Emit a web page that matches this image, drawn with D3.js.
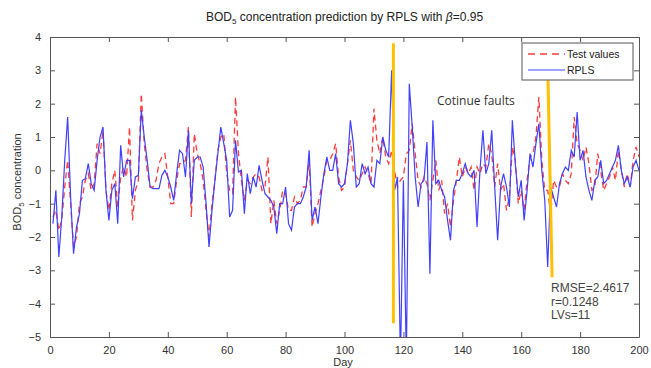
<!DOCTYPE html>
<html>
<head>
<meta charset="utf-8">
<script src="https://cdn.jsdelivr.net/npm/d3@7"></script>
<style>
  body { margin: 0; background: #fff; }
  svg { display: block; font-family: "Liberation Sans", Arial, sans-serif; }
</style>
</head>
<body>
<svg id="chart" width="651" height="368"></svg>
<script>
// test values (red dashed), day 1..200
const testValues = [
  -1.4, -1.2, -1.8, -1.5, -0.5, 0.3, -1.0, -2.3, -2.0, -1.0,
  -0.8, -0.3, -0.1, -0.6, -0.4, 0.8, 0.5, 1.2, -0.6, -1.2,
  -0.4, 0.0, -1.1, -0.2, 0.1, -0.2, 1.3, -1.5, -0.6, -0.3,
  2.3, 0.8, 0.0, -0.5, -0.5, -0.3, 0.2, 0.4, 0.5, -0.2,
  -1.0, -1.0, -0.3, 0.2, 0.2, 0.3, 1.3, -1.4, 1.1, 0.5,
  0.2, -0.3, -1.2, -2.0, -1.0, -0.3, 0.6, 1.0, 1.1, -0.1,
  -0.6, -0.7, 2.2, 0.5, -0.3, -0.9, -0.3, -0.4, -0.2, -0.1,
  -0.2, -0.6, -0.5, 0.4, -1.6, -0.9, -1.6, -1.2, -0.6, -0.7,
  -1.2, -1.2, -0.8, -1.0, -0.9, -0.5, -0.5, 0.3, -1.7, -1.3,
  -1.0, -0.6, -0.2, 0.3, 0.3, 0.5, 0.8, -0.2, -0.6, -0.5,
  0.2, 0.9, 0.0, -0.2, -0.3, -0.1, 0.1, -0.1, -0.4, 1.85,
  0.9, 0.5, 1.0, 0.4, 0.2, 0.6, 0.0, -0.5, -0.3, -0.2,
  0.5, 0.6, 1.4, 0.5, -0.3, -0.5, -0.2, -0.4, -0.9, -0.3,
  0.3, -0.6, -0.3, -1.3, -1.0, -1.7, -0.9, -0.3, 0.4, -0.2,
  0.1, -0.1, 0.1, -0.6, 0.1, -0.1, 0.2, 0.1, 0.8, 0.5,
  -0.5, 0.2, -0.6, -0.4, -1.2, -0.8, 0.7, 0.3, -1.0, -0.6,
  -1.2, -0.3, 0.4, 0.5, 1.0, 2.2, 0.3, -0.6, -0.6, -1.3,
  -0.3, -0.5, -0.5, -0.1, -0.3, -0.4, -0.1, 1.6, 0.8, 0.6,
  0.3, 0.7, 0.2, -0.6, -0.5, 0.5, 0.0, -0.6, -0.4, -0.2,
  0.1, -0.3, 0.6, 0.0, -0.5, -0.1, -0.5, 0.3, 0.7, 0.4
];

// RPLS prediction (blue), day 1..200
const rplsValues = [
  -1.6, -0.6, -2.6, -1.4, 0.3, 1.6, -0.8, -2.5, -1.7, -1.3,
  -0.3, -0.25, 0.2, -0.4, -0.6, 0.3, 1.0, 1.3, -0.6, -1.5,
  -0.6, -0.4, -1.6, 0.75, -0.2, 0.3, 0.3, -0.85, -0.2, -0.15,
  1.8, 1.0, 0.3, -0.5, -0.55, -0.55, -0.55, -0.15, 0.0, -0.2,
  -0.5, -0.9, -0.1, 0.6, 0.5, -0.2, 1.2, -1.0, 0.3, 0.4,
  0.4, 0.1, -1.0, -2.3, -1.2, -0.3, 0.5, 1.3, 0.8, 0.3,
  -1.4, -1.2, 0.9, -0.05, 0.0, -1.3, -0.1, -0.7, -0.2, -0.5,
  0.15, -0.3, -0.7, -0.8, -0.9, -1.1, -1.9, -1.0, -1.0, -0.5,
  -1.6, -1.8, -1.1, -1.0, -1.0, -0.8, -0.5, 0.6, -1.5, -1.1,
  -1.6, -0.8, -0.1, 0.4, 0.0, 0.0, 0.5, -0.4, -0.5, -0.4,
  0.2, 1.5, 0.8, -0.5, -0.4, 0.2, -0.1, 0.1, -0.4, -0.5,
  0.3, 0.2, 1.0, 0.6, 0.4, 3.0, -0.6, -0.2, -5.8, -0.3,
  -5.8, 2.6, 1.3, -0.2, -1.1, -0.4, -0.3, 0.85, -3.1, 1.5,
  -0.4, -0.3, -0.6, -0.8, -1.5, -2.1, -0.6, -0.3, -0.3, -0.1,
  0.2, -0.1, -0.2, 0.0, -1.7, 0.0, 1.2, -0.1, 0.2, 1.2,
  -0.5, -2.1, -0.5, -0.1, -0.5, -1.1, 1.5, 0.2, -0.8, -0.3,
  -1.5, -0.6, 0.5, 0.1, 0.8, 1.4, 0.0, -0.9, -2.9, -0.5,
  -0.8, -1.1, -0.4, -0.1, 0.1, 0.0, 0.6, 0.4, 1.75, 0.3,
  0.6, -0.2, -0.6, -0.9, -0.3, -0.2, 0.3, -0.4, -0.3, -0.1,
  0.1, 0.3, 0.75, 0.0, -0.4, -0.2, -0.5, 0.1, 0.3, 0.0
];

const xTicks = [0, 20, 40, 60, 80, 100, 120, 140, 160, 180, 200];
const yTicks = [-5, -4, -3, -2, -1, 0, 1, 2, 3, 4];

// orange fault markers: [day top, value top, day bottom, value bottom]
const faultMarks = [
  [116.6, 3.81, 116.6, -4.59],
  [169.1, 2.7, 170.5, -3.21]
];

const statsText = ["RMSE=2.4617", "r=0.1248", "LVs=11"];

const svg = d3.select("#chart");
const mLeft = 50, mRight = 639, mTop = 37, mBottom = 337;

const x = d3.scaleLinear().domain([0, 200]).range([mLeft, mRight]);
const y = d3.scaleLinear().domain([-5, 4]).range([mBottom, mTop]);

const axisColor = "#555";
const redCol = "#ff3b3b", blueCol = "#4040ff";

svg.append("defs").append("clipPath").attr("id", "plotclip")
  .append("rect").attr("x", mLeft).attr("y", mTop)
  .attr("width", mRight - mLeft).attr("height", mBottom - mTop);

// axes with inward ticks, box style
const styleAxis = g => {
  g.selectAll("path").attr("stroke", axisColor);
  g.selectAll("line").attr("stroke", axisColor);
  g.selectAll("text").attr("fill", "#333").style("font-size", "11px");
};

svg.append("g").attr("transform", `translate(0,${mBottom})`)
  .call(d3.axisBottom(x).tickValues(xTicks).tickSizeInner(-5).tickSizeOuter(0).tickPadding(9))
  .call(styleAxis);
svg.append("g").attr("transform", `translate(0,${mTop})`)
  .call(d3.axisTop(x).tickValues(xTicks).tickSizeInner(-5).tickSizeOuter(0).tickFormat(""))
  .call(styleAxis);
svg.append("g").attr("transform", `translate(${mLeft},0)`)
  .call(d3.axisLeft(y).tickValues(yTicks).tickSizeInner(-5).tickSizeOuter(0).tickPadding(9))
  .call(styleAxis);
svg.append("g").attr("transform", `translate(${mRight},0)`)
  .call(d3.axisRight(y).tickValues(yTicks).tickSizeInner(-5).tickSizeOuter(0).tickFormat(""))
  .call(styleAxis);

const line = d3.line().x((d, i) => x(i + 1)).y(d => y(d));

const plot = svg.append("g").attr("clip-path", "url(#plotclip)");

plot.append("path").datum(testValues)
  .attr("fill", "none").attr("stroke", redCol).attr("stroke-width", 1.3)
  .attr("stroke-dasharray", "6,4").attr("d", line);

plot.append("path").datum(rplsValues)
  .attr("fill", "none").attr("stroke", blueCol).attr("stroke-width", 1.2)
  .attr("d", line);

// fault markers
svg.selectAll(".fault").data(faultMarks).join("line")
  .attr("class", "fault")
  .attr("x1", d => x(d[0])).attr("y1", d => y(d[1]))
  .attr("x2", d => x(d[2])).attr("y2", d => y(d[3]))
  .attr("stroke", "#ffc000").attr("stroke-width", 3);

// title
const title = svg.append("text").attr("x", (mLeft + mRight) / 2).attr("y", 21)
  .attr("text-anchor", "middle").attr("fill", "#222").style("font-size", "12px");
title.append("tspan").text("BOD");
title.append("tspan").attr("dy", 3).style("font-size", "8px").text("5");
title.append("tspan").attr("dy", -3).text(" concentration prediction by RPLS with ");
title.append("tspan").style("font-style", "italic").text("β");
title.append("tspan").text("=0.95");

// axis labels
svg.append("text").attr("x", 343).attr("y", 366).attr("text-anchor", "middle")
  .attr("fill", "#333").style("font-size", "11px").text("Day");

const yl = svg.append("text").attr("transform", "translate(21,182) rotate(-90)")
  .attr("text-anchor", "middle").attr("fill", "#333").style("font-size", "11px");
yl.append("tspan").text("BOD");
yl.append("tspan").attr("dy", 3).style("font-size", "8px").text("5");
yl.append("tspan").attr("dy", -3).text(" concentration");

// legend
const lg = svg.append("g");
lg.append("rect").attr("x", 522).attr("y", 43).attr("width", 111).attr("height", 37)
  .attr("fill", "#fff").attr("stroke", axisColor);
lg.append("line").attr("x1", 528).attr("x2", 565).attr("y1", 54).attr("y2", 54)
  .attr("stroke", redCol).attr("stroke-dasharray", "7,5").attr("stroke-width", 1.3);
lg.append("line").attr("x1", 528).attr("x2", 565).attr("y1", 70).attr("y2", 70)
  .attr("stroke", blueCol).attr("stroke-width", 1.2);
lg.append("text").attr("x", 567).attr("y", 58).attr("fill", "#222")
  .style("font-size", "10.5px").text("Test values");
lg.append("text").attr("x", 567).attr("y", 74).attr("fill", "#222")
  .style("font-size", "10.5px").text("RPLS");

// annotations
svg.append("text").attr("x", 437).attr("y", 105).attr("fill", "#333")
  .style("font-family", "'Open Sans', sans-serif").style("font-size", "12px")
  .text("Cotinue faults");

svg.append("g").selectAll("text").data(statsText).join("text")
  .attr("x", 551).attr("y", (d, i) => 292 + i * 13.5)
  .attr("fill", "#444").style("font-size", "12px").text(d => d);
</script>
</body>
</html>
